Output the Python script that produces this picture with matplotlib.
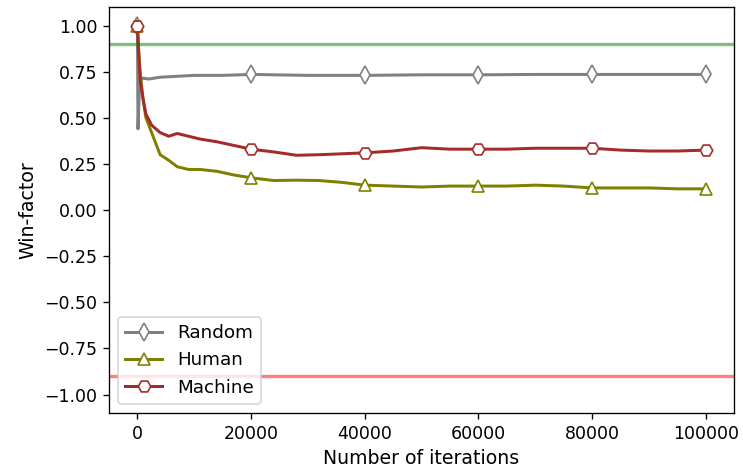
#!/usr/bin/env python3

import numpy as np
import matplotlib
matplotlib.use('Agg')
from matplotlib import pyplot as plt

# values
random_x = [0, 100, 400, 1000, 2000, 4000, 7000, 10000, 15000, 20000, 30000,
            40000, 50000, 60000, 70000, 80000, 90000, 100000]
random_y = [1.0, 0.44, 0.70, 0.715, 0.71, 0.72, 0.725, 0.73, 0.73, 0.735, 0.73,
            0.73, 0.733, 0.733, 0.735, 0.735, 0.735, 0.735]

agent_x = [0, 200, 500, 1000, 1500, 2500, 4000, 5500, 7000, 9000, 11000, 14000,
           17000, 20000, 24000, 28000, 32000, 36000, 40000, 45000, 50000, 55000,
           60000, 65000, 70000, 75000, 80000, 85000, 90000, 95000, 100000]
human_y = [1.0, 0.88, 0.74, 0.60, 0.50, 0.42, 0.30, 0.27, 0.235, 0.22, 0.22, 0.21,
           0.19, 0.175, 0.16, 0.162, 0.16, 0.15, 0.135, 0.13, 0.125, 0.13,
           0.13, 0.13, 0.135, 0.13, 0.12, 0.12, 0.12, 0.115, 0.115]
machine_y = [1.0, 0.86, 0.70, 0.60, 0.52, 0.46, 0.42, 0.40, 0.415, 0.40, 0.385, 0.37,
             0.35, 0.33, 0.315, 0.297, 0.30, 0.305, 0.31, 0.32, 0.338, 0.33,
             0.33, 0.33, 0.335, 0.335, 0.335, 0.325, 0.32, 0.32, 0.325]

upper_bound = 0.9
lower_bound = -0.9
marker_x = [0, 20000, 40000, 60000, 80000, 100000]

series = [
    {'label': 'Random', 'x': random_x, 'y': random_y, 'marker': 'd', 'color': 'grey'},
    {'label': 'Human', 'x': agent_x, 'y': human_y, 'marker': '^', 'color': 'olive'},
    {'label': 'Machine', 'x': agent_x, 'y': machine_y, 'marker': 'H', 'color': 'brown'},
]

fig = plt.figure(figsize=(743 / 120, 473 / 120), dpi=120)
ax = fig.add_axes([0.1467, 0.1268, 0.988 - 0.1467, 0.985 - 0.1268])

for s in series:
    idx = list(np.nonzero(np.isin(s['x'], marker_x))[0])
    ax.plot(s['x'], s['y'], label=s['label'], color=s['color'], marker=s['marker'],
            markevery=idx, markerfacecolor='white', markersize=7.5,
            markeredgewidth=1.0, linewidth=1.8)

ax.axhline(upper_bound, color='green', alpha=0.5, linewidth=2)
ax.axhline(lower_bound, color='red', alpha=0.5, linewidth=2)

ax.set_ylim(-1.1, 1.1)
ax.set_yticks(np.arange(-1.0, 1.01, 0.25))
ax.tick_params(labelsize=10.4)
ax.set_xlabel('Number of iterations', fontsize=11.3)
ax.set_ylabel('Win-factor', fontsize=11.3)
ax.legend(loc='lower left', numpoints=1, fontsize=11)

plt.savefig('out.png', dpi=120)
